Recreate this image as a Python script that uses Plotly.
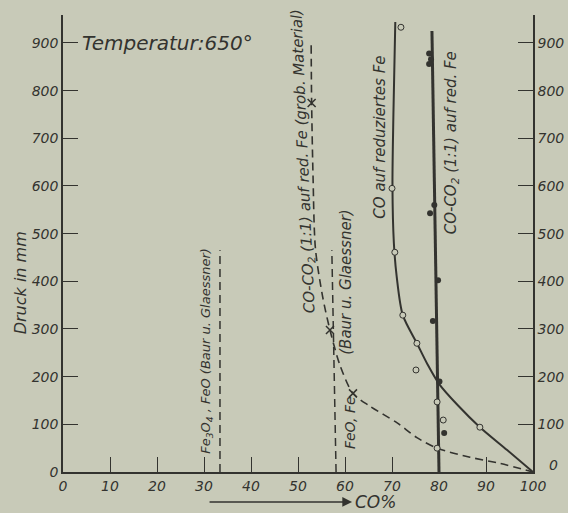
import plotly.graph_objects as go

# ---- data ----
co_red_fe_curve_x = [70.7, 70.3, 70.1, 70.4, 71.0, 72.3, 75.3, 77.6, 80.0, 84.0, 88.7, 94.5, 100.0]
co_red_fe_curve_y = [944, 750, 600, 480, 410, 329, 270, 225, 185, 140, 94, 46, 0]
co_red_fe_pts_x = [71.9, 70.0, 70.6, 72.3, 75.3, 75.1, 79.6, 80.9, 88.7, 79.6]
co_red_fe_pts_y = [933, 595, 461, 329, 270, 214, 147, 109, 94, 50]

coco2_line_x = [78.5, 80.0]
coco2_line_y = [925, 0]
coco2_pts_x = [77.9, 78.3, 77.9, 78.1, 79.0, 79.8, 78.7, 80.1, 81.1]
coco2_pts_y = [878, 866, 856, 543, 560, 402, 317, 190, 82]

grob_curve_x = [52.8, 52.9, 53.2, 53.7, 55.2, 56.8, 59.0, 61.7, 65.3, 71.1, 75.3, 79.6, 86.6, 93.0, 100.0]
grob_curve_y = [895, 774, 620, 470, 370, 298, 222, 165, 138, 103, 72, 50, 31, 18, 0]
grob_pts_x = [52.9, 56.8, 61.7]
grob_pts_y = [774, 298, 165]

fe3o4_feo_x = [33.4, 33.4]
fe3o4_feo_y = [0, 465]
feo_fe_x = [58.1, 57.2]
feo_fe_y = [0, 465]

x_ticks = [0, 10, 20, 30, 40, 50, 60, 70, 80, 90, 100]
y_ticks = [0, 100, 200, 300, 400, 500, 600, 700, 800, 900]
y2_ticks = [100, 200, 300, 400, 500, 600, 700, 800, 900]

INK = "#33332f"
BG = "#c8cab8"
FONT = "DejaVu Sans"

fig = go.Figure()

dash = "8px,5px"
fig.add_trace(go.Scatter(x=fe3o4_feo_x, y=fe3o4_feo_y, mode="lines",
                         line=dict(color=INK, width=1.5, dash=dash), cliponaxis=False))
fig.add_trace(go.Scatter(x=feo_fe_x, y=feo_fe_y, mode="lines",
                         line=dict(color=INK, width=1.5, dash=dash), cliponaxis=False))
fig.add_trace(go.Scatter(x=grob_curve_x, y=grob_curve_y, mode="lines", line_shape="spline",
                         line=dict(color=INK, width=1.6, dash=dash, smoothing=0.8), cliponaxis=False))
fig.add_trace(go.Scatter(x=coco2_line_x, y=coco2_line_y, mode="lines",
                         line=dict(color=INK, width=3), cliponaxis=False))
fig.add_trace(go.Scatter(x=co_red_fe_curve_x, y=co_red_fe_curve_y, mode="lines", line_shape="spline",
                         line=dict(color=INK, width=2, smoothing=0.8), cliponaxis=False))
fig.add_trace(go.Scatter(x=co_red_fe_pts_x, y=co_red_fe_pts_y, mode="markers",
                         marker=dict(symbol="circle", size=6, color=BG, line=dict(color=INK, width=1)),
                         cliponaxis=False))
fig.add_trace(go.Scatter(x=coco2_pts_x, y=coco2_pts_y, mode="markers",
                         marker=dict(symbol="circle", size=6, color=INK), cliponaxis=False))
fig.add_trace(go.Scatter(x=grob_pts_x, y=grob_pts_y, mode="markers",
                         marker=dict(symbol="x-thin", size=8, line=dict(color=INK, width=1.5)),
                         cliponaxis=False))
# invisible trace to activate right axis
fig.add_trace(go.Scatter(x=[0], y=[0], yaxis="y2", mode="markers", marker=dict(opacity=0),
                         hoverinfo="skip"))

tickfont = dict(family=FONT, size=14, color=INK, style="italic")
yr = [0, 958.7]

axis_common = dict(ticks="inside", ticklen=15, tickwidth=1.2, tickcolor=INK,
                   showline=True, linecolor=INK, linewidth=1.5, showgrid=False,
                   zeroline=False, tickfont=tickfont, automargin=False)

fig.update_layout(
    width=568, height=513,
    margin=dict(l=63, r=35, t=15, b=41),
    paper_bgcolor=BG, plot_bgcolor=BG,
    showlegend=False,
    xaxis=dict(range=[0, 100], tickvals=x_ticks, ticktext=[str(v) for v in x_ticks],
               **axis_common),
    yaxis=dict(range=yr, tickvals=y_ticks, ticktext=[str(v) for v in y_ticks],
               **axis_common),
    yaxis2=dict(range=yr, overlaying="y", side="right", tickvals=y2_ticks,
                ticktext=[str(v) for v in y2_ticks], **axis_common),
)

def ann(text, x, y, size=15, angle=-90, xanchor="center", xref="x", yref="y", **kw):
    fig.add_annotation(text=text, x=x, y=y, xref=xref, yref=yref, showarrow=False,
                       textangle=angle, xanchor=xanchor, yanchor="middle",
                       font=dict(family=FONT, size=size, color=INK, style="italic"), **kw)

ann("Temperatur:650°", 3.6, 900, size=20, angle=0, xanchor="left")
ann("Druck in mm", -0.0915, 398, size=16, xref="paper")
ann("Fe<sub>3</sub>O<sub>4</sub> , FeO (Baur u. Glaessner)", 30.6, 254, size=13)
ann("FeO, Fe", 61.1, 103, size=14)
ann("(Baur u. Glaessner)", 60.2, 399, size=15)
ann("CO-CO<sub>2</sub> (1:1) auf red. Fe (grob. Material)", 51.1, 652, size=15, angle=-92.5)
ann("CO auf reduziertes Fe", 67.4, 703, size=15)
ann("CO-CO<sub>2</sub> (1:1) auf red. Fe", 82.6, 690, size=15)
ann("CO%", 0.617, -0.0656, size=17, angle=0, xanchor="left", xref="paper", yref="paper")
# right-axis zero label sits above the baseline in the reference
ann("0", 1.0426, 0.0153, size=14, angle=0, xref="paper", yref="paper")

# arrow "→" before CO%
fig.add_annotation(x=0.615, y=-0.0656, xref="paper", yref="paper", ax=-144, ay=0,
                   text="", showarrow=True, arrowhead=2, arrowsize=1.3, arrowwidth=1.5,
                   arrowcolor=INK)

fig.write_html("out.html", config={"displayModeBar": False},
               post_script="document.body.style.margin='0px';document.body.style.overflow='hidden';")
